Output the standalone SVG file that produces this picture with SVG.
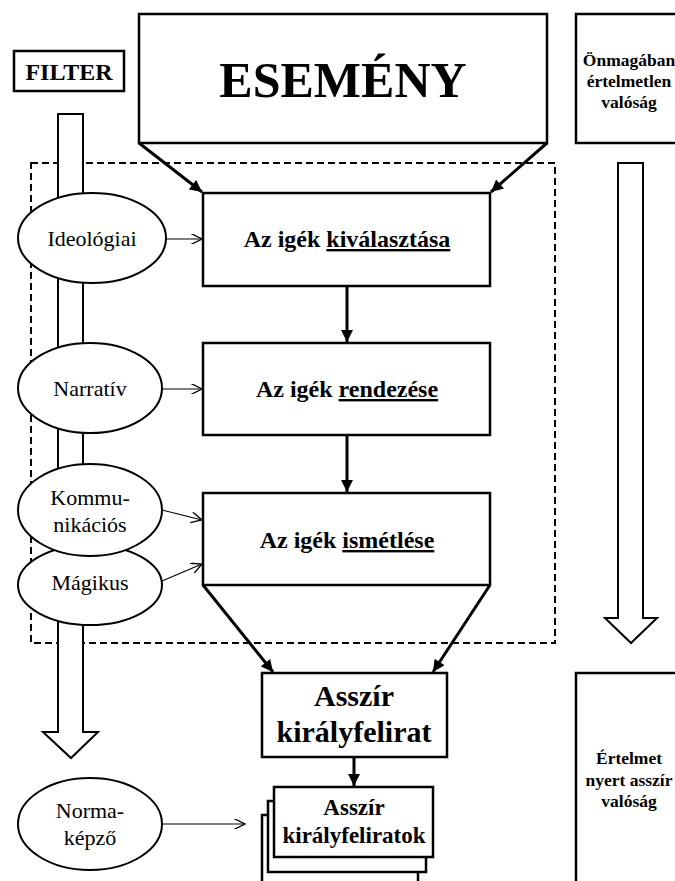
<svg xmlns="http://www.w3.org/2000/svg" width="675" height="881" viewBox="0 0 675 881">
<defs>
<style>
.box{fill:#fff;stroke:#000;stroke-width:2.5}
.ell{fill:#fff;stroke:#000;stroke-width:2}
.big{fill:#fff;stroke:#000;stroke-width:2}
.thick{stroke:#000;stroke-width:3;fill:none}
.thin{stroke:#000;stroke-width:1.2;fill:none}
.dash{fill:none;stroke:#000;stroke-width:2;stroke-dasharray:7 4}
.b{font-family:"Liberation Serif","Times New Roman",serif;font-weight:bold;fill:#000;text-anchor:middle}
.r{font-family:"Liberation Serif","Times New Roman",serif;font-size:22px;fill:#000;text-anchor:middle}
.u{text-decoration:underline}
</style>
<marker id="fa" viewBox="0 0 10 10" refX="10" refY="5" markerWidth="4.5" markerHeight="4" orient="auto" markerUnits="strokeWidth">
<path d="M0,0 L10,5 L0,10 Z" fill="#000"/>
</marker>
<marker id="oa" viewBox="0 0 10 10" refX="10" refY="5" markerWidth="10" markerHeight="9" orient="auto" markerUnits="strokeWidth">
<path d="M0,0 L10,5 L0,10" fill="none" stroke="#000" stroke-width="1.2"/>
</marker>
</defs>
<rect width="675" height="881" fill="#fff"/>

<g id="dashed-frame"><rect class="dash" x="31" y="163" width="524" height="480"/></g>

<g id="filter-arrow"><polygon class="big" points="58,114 83,114 83,732 98,732 71,758 43,732 58,732"/></g>
<g id="meaning-arrow"><polygon class="big" points="618,163 643,163 643,618 657,618 631,643 605,618 618,618"/></g>

<g id="filter"><rect class="box" x="14" y="51" width="110" height="40"/><text class="b" x="69" y="80" font-size="24">FILTER</text></g>

<g id="esemeny"><rect class="box" x="139" y="14" width="408" height="129"/><text class="b" x="343" y="97" font-size="50">ESEMÉNY</text></g>

<g id="onmagaban"><rect class="box" x="576" y="14" width="120" height="129"/>
<text class="b" font-size="17.5"><tspan x="629" y="66">Önmagában</tspan><tspan x="629" y="87">értelmetlen</tspan><tspan x="629" y="108">valóság</tspan></text></g>

<g id="box1"><rect class="box" x="203" y="193" width="287" height="93"/><text class="b" x="347" y="247" font-size="24">Az igék <tspan class="u">kiválasztása</tspan></text></g>
<g id="box2"><rect class="box" x="203" y="343" width="287" height="92"/><text class="b" x="347" y="397" font-size="24">Az igék <tspan class="u">rendezése</tspan></text></g>
<g id="box3"><rect class="box" x="203" y="493" width="287" height="92"/><text class="b" x="347" y="548" font-size="24">Az igék <tspan class="u">ismétlése</tspan></text></g>

<g id="ideologiai"><ellipse class="ell" cx="92" cy="238" rx="74" ry="45"/><text class="r" x="92" y="246">Ideológiai</text></g>
<g id="narrativ"><ellipse class="ell" cx="90" cy="388" rx="72" ry="45"/><text class="r" x="90" y="396">Narratív</text></g>
<g id="magikus"><ellipse class="ell" cx="90" cy="585" rx="72" ry="40"/><text class="r" x="90" y="590">Mágikus</text></g>
<g id="kommunikacios"><ellipse class="ell" cx="90" cy="510" rx="72" ry="46"/><text class="r"><tspan x="90" y="505">Kommu-</tspan><tspan x="90" y="532">nikációs</tspan></text></g>
<g id="normakepzo"><ellipse class="ell" cx="90" cy="824" rx="72" ry="46"/><text class="r"><tspan x="90" y="818">Norma-</tspan><tspan x="90" y="845">képző</tspan></text></g>

<g id="asszir"><rect class="box" x="262" y="673" width="185" height="84"/><text class="b" font-size="30"><tspan x="354" y="706">Asszír</tspan><tspan x="354" y="742">királyfelirat</tspan></text></g>

<g id="asszir-stack">
<rect class="box" x="262" y="815" width="156" height="80"/>
<rect class="box" x="268" y="801" width="158" height="71"/>
<rect class="box" x="274" y="787" width="159" height="70"/>
<text class="b" font-size="23"><tspan x="354" y="815">Asszír</tspan><tspan x="354" y="843">királyfeliratok</tspan></text></g>

<g id="ertelmet"><rect class="box" x="576" y="673" width="120" height="250"/>
<text class="b" font-size="17.5"><tspan x="629" y="764">Értelmet</tspan><tspan x="629" y="786">nyert asszír</tspan><tspan x="629" y="807">valóság</tspan></text></g>

<g id="connectors">
<line class="thick" x1="139" y1="143" x2="202" y2="192" marker-end="url(#fa)"/>
<line class="thick" x1="547" y1="143" x2="491" y2="192" marker-end="url(#fa)"/>
<line class="thick" x1="347" y1="286" x2="347" y2="342" marker-end="url(#fa)"/>
<line class="thick" x1="347" y1="435" x2="347" y2="492" marker-end="url(#fa)"/>
<line class="thick" x1="203" y1="585" x2="273" y2="672" marker-end="url(#fa)"/>
<line class="thick" x1="490" y1="585" x2="433" y2="672" marker-end="url(#fa)"/>
<line class="thick" x1="354" y1="757" x2="354" y2="786" marker-end="url(#fa)"/>
<line class="thin" x1="167" y1="239" x2="202" y2="239" marker-end="url(#oa)"/>
<line class="thin" x1="162" y1="389" x2="202" y2="389" marker-end="url(#oa)"/>
<line class="thin" x1="162" y1="510" x2="202" y2="520" marker-end="url(#oa)"/>
<line class="thin" x1="162" y1="581" x2="202" y2="564" marker-end="url(#oa)"/>
<line class="thin" x1="162" y1="824" x2="245" y2="824" marker-end="url(#oa)"/>
</g>
</svg>
